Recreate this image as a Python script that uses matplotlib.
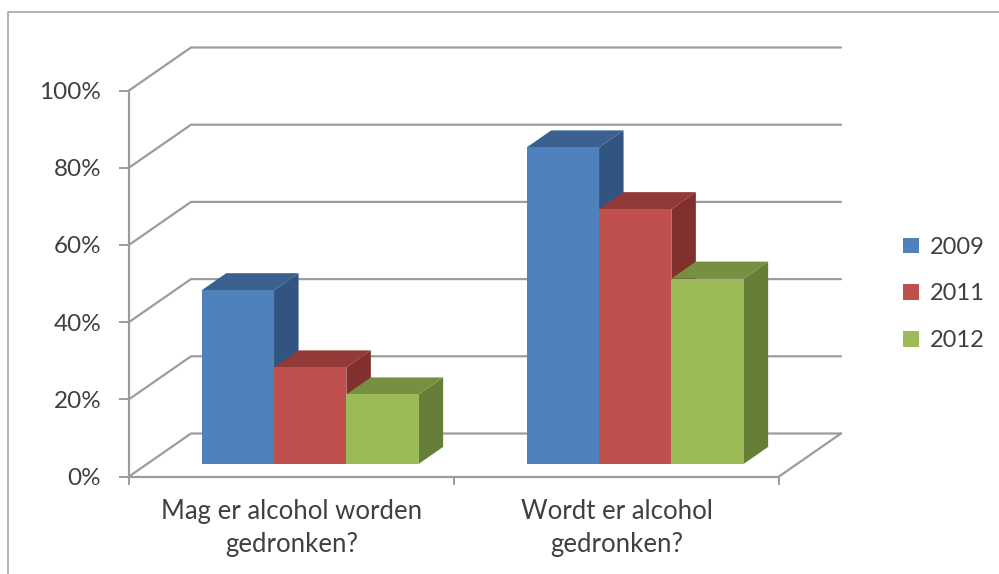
import matplotlib
matplotlib.use("Agg")
import matplotlib.pyplot as plt
from matplotlib.lines import Line2D
from matplotlib.patches import Polygon, Patch

categories = ["Mag er alcohol worden\ngedronken?", "Wordt er alcohol\ngedronken?"]
years = ["2009", "2011", "2012"]
v2009 = [45, 82]
v2011 = [25, 66]
v2012 = [18, 48]
y_ticks = [0, 20, 40, 60, 80, 100]

front = ["#4F81BD", "#C0504D", "#9BBB59"]
top = ["#3A6090", "#923A37", "#749040"]
side = ["#325480", "#81302E", "#667F38"]
GRID = "#9c9c9c"
TEXT = "#404040"

W, H = 999, 574
plt.rcParams["font.family"] = ["Lato", "DejaVu Sans"]
fig = plt.figure(figsize=(W / 100, H / 100), dpi=100, facecolor="white")

# plot box in pixels: left, right, top, bottom of the front plane
L, R, T, B = 129, 779, 90.5, 476.5
ax = fig.add_axes([L / W, 1 - B / H, (R - L) / W, (B - T) / H])
ax.set_xlim(0, 2)
ax.set_ylim(0, 100)
ax.patch.set_alpha(0)
px = 2 / (R - L)          # data units per pixel, x
py = 100 / (B - T)        # data units per pixel, y

# depth of the 3D box and of the bars, in data units
wall_dx, wall_dy = 62 * px, 43 * py
bar_dx, bar_dy = 24.5 * px, 17 * py
bar_x0, bar_y0 = 18.7 * px, 12.6 * py
bar_w = 72.3 * px

# walls
wall_kw = dict(color=GRID, lw=1.6, clip_on=False, zorder=1, solid_capstyle="round")
for t in y_ticks:
    ax.plot([0, wall_dx, 2 + wall_dx], [t, t + wall_dy, t + wall_dy], **wall_kw)
ax.plot([2, 2 + wall_dx], [0, wall_dy], **wall_kw)

# bars
series = [v2009, v2011, v2012]
for gi in range(len(categories)):
    for si, values in enumerate(series):
        x0 = gi + 0.5 + (si - 1.5) * bar_w + bar_x0
        x1 = x0 + bar_w
        y0 = bar_y0
        y1 = y0 + values[gi]
        z = 3 + si
        ax.add_patch(Polygon([(x1, y0), (x1 + bar_dx, y0 + bar_dy),
                              (x1 + bar_dx, y1 + bar_dy), (x1, y1)],
                             fc=side[si], ec="none", clip_on=False, zorder=z))
        ax.add_patch(Polygon([(x0, y1), (x0 + bar_dx, y1 + bar_dy),
                              (x1 + bar_dx, y1 + bar_dy), (x1, y1)],
                             fc=top[si], ec="none", clip_on=False, zorder=z))
        ax.bar(x0, values[gi], width=bar_w, bottom=y0, align="edge",
               color=front[si], clip_on=False, zorder=z + 0.5)

# axes
for s in ("top", "right"):
    ax.spines[s].set_visible(False)
for s in ("left", "bottom"):
    ax.spines[s].set_color(GRID)
    ax.spines[s].set_linewidth(1.6)
    ax.spines[s].set_zorder(2)
ax.set_yticks(y_ticks)
ax.set_yticklabels([f"{t}%" for t in y_ticks], fontsize=17.5, color=TEXT)
ax.tick_params(axis="y", length=7, width=1.4, color=GRID, pad=13)
ax.set_xticks([0, 1, 2])
ax.set_xticklabels([])
ax.tick_params(axis="x", which="major", length=6, width=1.4, color=GRID)
ax.set_xticks([0.5, 1.5], minor=True)
ax.set_xticklabels(categories, minor=True, fontsize=18.5, color=TEXT, linespacing=1.42)
ax.tick_params(axis="x", which="minor", length=0, pad=16)

# legend
handles = [Patch(fc=c, ec="none", label=y) for c, y in zip(front, years)]
fig.legend(handles=handles, loc="center left", bbox_to_anchor=(903 / W, 1 - 294 / H),
           frameon=False, fontsize=17, labelcolor=TEXT, handlelength=0.66, handleheight=0.66,
           handletextpad=0.48, labelspacing=1.09, borderpad=0, borderaxespad=0)

# outer frame
fig.add_artist(Line2D([8 / W, 8 / W, 1], [0, 1 - 12 / H, 1 - 12 / H],
                      color="#a6a6a6", lw=1.2, transform=fig.transFigure))

fig.savefig("out.png", dpi=100)
